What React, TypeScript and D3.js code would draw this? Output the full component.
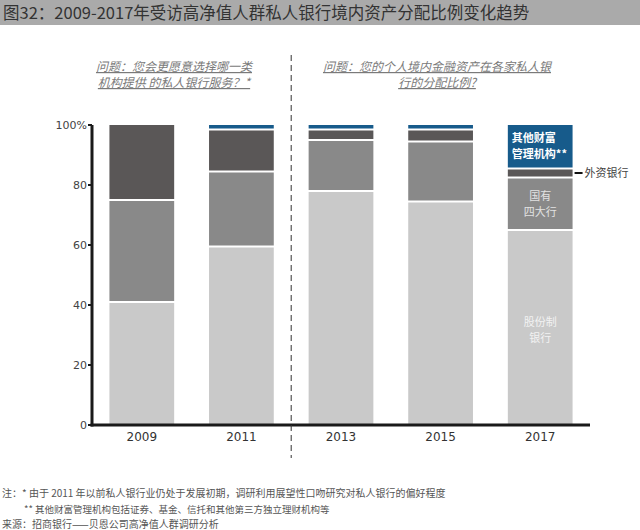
import React, { useEffect, useRef } from "react";
import * as d3 from "d3";

// Survey years (x categories)
const years = ["2009", "2011", "2013", "2015", "2017"];

// Stacked segment values (%), bottom to top
const jointStock = [41, 59.5, 78, 74.5, 65]; // 股份制银行
const bigFour = [34, 25, 17, 20, 17.5]; // 国有四大行
const foreign = [25, 14, 3.5, 4, 3]; // 外资银行
const otherWealth = [0, 1.5, 1.5, 1.5, 14.5]; // 其他财富管理机构

const yTicks = [0, 20, 40, 60, 80, 100];

const seriesKeys = ["jointStock", "bigFour", "foreign", "otherWealth"];
const seriesColors: Record<string, string> = {
  jointStock: "#c9c9c9",
  bigFour: "#898989",
  foreign: "#5a5757",
  otherWealth: "#175b8b",
};

const titleText = "图32：2009-2017年受访高净值人群私人银行境内资产分配比例变化趋势";
const leftQuestion = ["问题：您会更愿意选择哪一类", "机构提供 的私人银行服务？*"];
const rightQuestion = ["问题：您的个人境内金融资产在各家私人银", "行的分配比例?"];
const notes = [
  "注：* 由于 2011 年以前私人银行业仍处于发展初期，调研利用展望性口吻研究对私人银行的偏好程度",
  "** 其他财富管理机构包括证券、基金、信托和其他第三方独立理财机构等",
  "来源：招商银行——贝恩公司高净值人群调研分析",
];

const cjk = "'Noto Sans CJK SC', 'DejaVu Sans', sans-serif";
const num = "'DejaVu Sans', 'Noto Sans CJK SC', sans-serif";

const App: React.FC = () => {
  const svgRef = useRef<SVGSVGElement | null>(null);
  const width = 640;
  const height = 530;

  useEffect(() => {
    const svg = d3.select(svgRef.current);
    svg.selectAll("*").remove();

    const rows = years.map((y, i) => ({
      year: y,
      jointStock: jointStock[i],
      bigFour: bigFour[i],
      foreign: foreign[i],
      otherWealth: otherWealth[i],
    }));

    const x = d3
      .scaleBand<string>()
      .domain(years)
      .range([92, 590])
      .paddingInner(0.35)
      .paddingOuter(0.175);

    const y = d3.scaleLinear().domain([0, 100]).range([425, 125]);

    // title band
    svg.append("rect").attr("x", 0).attr("y", 0).attr("width", width).attr("height", 25).attr("fill", "#aaaaaa");
    svg
      .append("text")
      .attr("x", 3)
      .attr("y", 19)
      .attr("font-family", cjk)
      .attr("font-size", 16.5)
      .attr("fill", "#333")
      .text(titleText);

    // stacked bars
    const stacked = d3.stack<any>().keys(seriesKeys)(rows);
    stacked.forEach((layer, li) => {
      svg
        .append("g")
        .selectAll("rect")
        .data(layer)
        .join("rect")
        .filter((d) => d[1] - d[0] > 0)
        .attr("x", (d) => x(d.data.year)!)
        .attr("width", x.bandwidth())
        .attr("y", (d) => y(d[1]) + (d[1] < 99.9 ? 1 : 0))
        .attr("height", (d) => {
          const top = y(d[1]) + (d[1] < 99.9 ? 1 : 0);
          const bottom = y(d[0]) - (li > 0 ? 1 : 0);
          return Math.max(0, bottom - top);
        })
        .attr("fill", seriesColors[layer.key]);
    });

    // axes
    const axisG = svg.append("g").attr("transform", "translate(92,0)");
    axisG
      .append("line")
      .attr("x1", 0)
      .attr("x2", 0)
      .attr("y1", y(100))
      .attr("y2", y(0) + 1.5)
      .attr("stroke", "#1a1a1a")
      .attr("stroke-width", 3);
    yTicks.forEach((t) => {
      axisG
        .append("line")
        .attr("x1", -4)
        .attr("x2", 0)
        .attr("y1", y(t))
        .attr("y2", y(t))
        .attr("stroke", "#1a1a1a")
        .attr("stroke-width", 2);
      axisG
        .append("text")
        .attr("x", -5)
        .attr("y", y(t))
        .attr("dy", "0.35em")
        .attr("text-anchor", "end")
        .attr("font-family", num)
        .attr("font-size", 11)
        .attr("fill", "#444")
        .text(t === 100 ? "100%" : String(t));
    });
    svg
      .append("line")
      .attr("x1", 90.5)
      .attr("x2", 590)
      .attr("y1", y(0))
      .attr("y2", y(0))
      .attr("stroke", "#1a1a1a")
      .attr("stroke-width", 3);

    // year labels
    svg
      .append("g")
      .selectAll("text")
      .data(years)
      .join("text")
      .attr("x", (d) => x(d)! + x.bandwidth() / 2)
      .attr("y", 441)
      .attr("text-anchor", "middle")
      .attr("font-family", num)
      .attr("font-size", 12)
      .attr("fill", "#333")
      .text((d) => d);

    // dashed divider between 2011 and 2013
    const divX = (x("2011")! + x.bandwidth() + x("2013")!) / 2;
    svg
      .append("line")
      .attr("x1", divX)
      .attr("x2", divX)
      .attr("y1", 55)
      .attr("y2", 458)
      .attr("stroke", "#333")
      .attr("stroke-width", 1)
      .attr("stroke-dasharray", "6,4");

    // question texts
    const question = (lines: string[], cx: number) => {
      lines.forEach((l, i) => {
        svg
          .append("text")
          .attr("x", cx)
          .attr("y", 71 + i * 16)
          .attr("text-anchor", "middle")
          .attr("font-family", cjk)
          .attr("font-size", 12)
          .attr("font-style", "italic")
          .attr("text-decoration", "underline")
          .attr("fill", "#7a7a7a")
          .text(l);
      });
    };
    question(leftQuestion, 174);
    question(rightQuestion, 437);

    // labels inside the 2017 bar
    const bx = x("2017")!;
    const bw = x.bandwidth();
    const last = rows[rows.length - 1];
    const labelText = (t: string, tx: number, ty: number, fill: string, anchor: string, bold = false) =>
      svg
        .append("text")
        .attr("x", tx)
        .attr("y", ty)
        .attr("text-anchor", anchor)
        .attr("font-family", cjk)
        .attr("font-size", 11)
        .attr("font-weight", bold ? "bold" : "normal")
        .attr("fill", fill)
        .text(t);

    labelText("其他财富", bx + 4, y(100) + 17, "#ffffff", "start", true);
    labelText("管理机构**", bx + 4, y(100) + 33, "#ffffff", "start", true);

    const midTop = y(last.jointStock + last.bigFour);
    const midBot = y(last.jointStock);
    labelText("国有", bx + bw / 2, (midTop + midBot) / 2 - 4, "#e2e2e2", "middle");
    labelText("四大行", bx + bw / 2, (midTop + midBot) / 2 + 12, "#e2e2e2", "middle");

    labelText("股份制", bx + bw / 2, 326, "#f2f2f2", "middle");
    labelText("银行", bx + bw / 2, 342, "#f2f2f2", "middle");

    const fy = y(last.jointStock + last.bigFour + last.foreign / 2);
    svg
      .append("line")
      .attr("x1", bx + bw + 2)
      .attr("x2", bx + bw + 10)
      .attr("y1", fy)
      .attr("y2", fy)
      .attr("stroke", "#111")
      .attr("stroke-width", 2);
    labelText("外资银行", bx + bw + 12, fy + 4, "#444", "start");

    // footnotes
    const noteLines = [
      { t: notes[0], x: 2, y: 497, s: 10 },
      { t: notes[1], x: 24, y: 513, s: 9.5 },
      { t: notes[2], x: 2, y: 528, s: 10 },
    ];
    noteLines.forEach((n) => {
      svg
        .append("text")
        .attr("x", n.x)
        .attr("y", n.y)
        .attr("font-family", cjk)
        .attr("font-size", n.s)
        .attr("fill", "#555")
        .text(n.t);
    });
  }, []);

  return (
    <svg
      ref={svgRef}
      width={width}
      height={height}
      style={{ position: "absolute", left: 0, top: 0, background: "#fff" }}
    />
  );
};

export default App;
